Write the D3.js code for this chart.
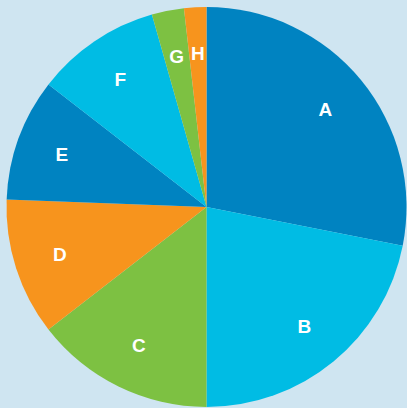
<!DOCTYPE html>
<html>
<head>
<meta charset="utf-8">
<script src="https://cdn.jsdelivr.net/npm/d3@7"></script>
<style>
  html, body { margin: 0; padding: 0; background: #cfe5f1; }
  svg { display: block; }
</style>
</head>
<body>
<svg id="chart" width="407" height="408"></svg>
<script>
// Pie slices, clockwise from 12 o'clock
const categories = ['A', 'B', 'C', 'D', 'E', 'F', 'G', 'H'];
const values     = [28.1, 21.9, 14.5, 11.1, 9.9, 10.1, 2.6, 1.8];
const colors     = ['#0083c1', '#00bce4', '#7dc142', '#f7941d', '#0083c1', '#00bce4', '#7dc142', '#f7941d'];

const W = 407, H = 408;
const cx = 206.5, cy = 207, R = 200;

const svg = d3.select('#chart');
svg.append('rect').attr('width', W).attr('height', H).attr('fill', '#cfe5f1');

const data = categories.map((c, i) => ({ name: c, value: values[i], color: colors[i] }));

const pie = d3.pie().value(d => d.value).sort(null);
const arc = d3.arc().innerRadius(0).outerRadius(R);
const labelArc = d3.arc().innerRadius(154).outerRadius(154);

const g = svg.append('g').attr('transform', `translate(${cx},${cy})`);
const arcs = pie(data);

g.selectAll('path')
  .data(arcs)
  .join('path')
    .attr('d', arc)
    .attr('fill', d => d.data.color);

g.selectAll('text')
  .data(arcs)
  .join('text')
    .attr('transform', d => `translate(${labelArc.centroid(d)})`)
    .attr('text-anchor', 'middle')
    .attr('dy', '0.36em')
    .attr('fill', '#fff')
    .style('font-family', '"Liberation Sans", Arial, sans-serif')
    .style('font-weight', 'bold')
    .style('font-size', '19px')
    .text(d => d.data.name);
</script>
</body>
</html>
